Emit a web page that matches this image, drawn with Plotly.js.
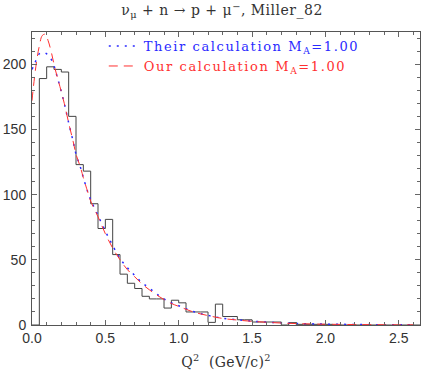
<!DOCTYPE html>
<html>
<head>
<meta charset="utf-8">
<script src="https://cdn.plot.ly/plotly-3.0.1.min.js"></script>
<style>html,body{margin:0;padding:0;background:#fff;}#chart{width:423px;height:379px;}
.legendtext{letter-spacing:1.6px;}
.xtitle{letter-spacing:0.3px;}
.gtitle{letter-spacing:0.5px;}
</style>
</head>
<body>
<div id="chart"></div>
<script>
// Histogram (data): bin left edges, width 0.05 GeV^2
var binEdges = [0.00,0.05,0.10,0.15,0.20,0.25,0.30,0.35,0.40,0.45,0.50,0.55,0.60,0.65,0.70,0.75,0.80,0.85,0.90,0.95,1.00,1.05,1.10,1.15,1.20,1.25,1.30,1.35,1.40,1.45,1.50,1.55,1.60,1.65,1.70,1.75,1.80,1.85,1.90,1.95,2.00,2.05,2.10,2.15,2.20,2.25,2.30,2.35,2.40,2.45,2.50,2.55,2.60,2.65];
var binCounts = [0,189,198,196,194,160,123,118,93,74,81,54,39,32,28,22,20,20,13,19,17,10,10,10,2,16,6.5,6.5,4,4,2.3,2.3,2.3,2.3,0,1.8,0.5,0.5,0.5,0.5,0.5,0,0,0,0,0,0,0,0,0,0,0,0,0];

// Their calculation (blue dotted)
var theirQ2 = [0.00,0.02,0.05,0.08,0.10,0.13,0.15,0.17,0.19,0.22,0.25,0.28,0.30,0.33,0.35,0.38,0.40,0.45,0.50,0.55,0.60,0.65,0.70,0.75,0.80,0.85,0.90,0.95,1.00,1.10,1.20,1.30,1.40,1.50,1.60,1.70,1.80,1.90,2.00,2.20,2.40,2.60];
var theirVal = [196,201,208,209,208,204,199,191,183,170,155,141,131,121,113,102,96,84,72,61,51,44,38,32.5,28.3,23.8,20,17,14.8,10.3,7.4,5.2,4,3,2.2,1.6,1.2,0.9,0.7,0.4,0.2,0.1];

// Our calculation (red dashed)
var ourQ2 = [0.00,0.01,0.03,0.05,0.07,0.09,0.11,0.13,0.15,0.17,0.19,0.22,0.25,0.28,0.30,0.33,0.35,0.38,0.40,0.45,0.50,0.55,0.60,0.65,0.70,0.75,0.80,0.85,0.90,0.95,1.00,1.10,1.20,1.30,1.40,1.50,1.60,1.70,1.80,1.90,2.00,2.20,2.40,2.60];
var ourVal = [172,183,201,214,222,223,218,210,200,191,183,170,155,141,131,121,113,102,95,83,70,59,50,42.5,37,31.5,27,23,19.5,16.5,14.3,10,7.2,5,3.8,2.8,2.1,1.5,1.1,0.8,0.6,0.35,0.18,0.1];

var legendTexts = ['Their calculation M<sub>A</sub>=1.00', 'Our calculation M<sub>A</sub>=1.00'];

var serif = 'DejaVu Serif, Liberation Serif, serif';

var traces = [
  {x: binEdges, y: binCounts, type: 'scatter', mode: 'lines', line: {shape: 'hv', color: '#444', width: 1}, showlegend: false, hoverinfo: 'skip'},
  {x: theirQ2, y: theirVal, type: 'scatter', mode: 'lines', name: legendTexts[0], line: {shape: 'spline', color: '#2a2aff', width: 1.5, dash: '2px,6px'}},
  {x: ourQ2, y: ourVal, type: 'scatter', mode: 'lines', name: legendTexts[1], line: {shape: 'spline', color: '#ff3030', width: 1, dash: '9px,6px'}}
];

var layout = {
  width: 423, height: 379,
  margin: {l: 32, r: 3, t: 32, b: 54},
  paper_bgcolor: '#fff', plot_bgcolor: '#fff',
  title: {text: '&#957;<sub>&#956;</sub> + n &#8594; p + &#956;<sup>&#8722;</sup>, Miller_82', x: 0.525, xanchor: 'center', y: 0.985, yanchor: 'top', font: {family: serif, size: 14, color: '#333'}},
  xaxis: {range: [0, 2.645], showgrid: false, zeroline: false, showline: true, linecolor: '#555', linewidth: 1, mirror: 'ticks',
    ticks: 'inside', ticklen: 5, tickcolor: '#666', dtick: 0.5, tick0: 0, tickformat: '.1f',
    minor: {ticks: 'inside', ticklen: 3, dtick: 0.1, tickcolor: '#666'},
    tickfont: {family: 'Liberation Sans, Arial, sans-serif', size: 14, color: '#333'},
    title: {text: 'Q<sup>2</sup>  (GeV/c)<sup>2</sup>', standoff: 12, font: {family: serif, size: 14, color: '#333'}}},
  yaxis: {range: [0, 224.7], showgrid: false, zeroline: false, showline: true, linecolor: '#555', linewidth: 1, mirror: 'ticks',
    ticks: 'inside', ticklen: 5, tickcolor: '#666', dtick: 50, tick0: 0,
    minor: {ticks: 'inside', ticklen: 3, dtick: 10, tickcolor: '#666'},
    tickfont: {family: 'Liberation Sans, Arial, sans-serif', size: 14, color: '#333'}, ticklabelstandoff: 2},
  legend: {x: 0.185, y: 1.003, xanchor: 'left', yanchor: 'top', bgcolor: 'rgba(0,0,0,0)', borderwidth: 0,
    font: {family: serif, size: 13}},
  showlegend: true,
  hovermode: false
};

Plotly.newPlot('chart', traces, layout, {displayModeBar: false, staticPlot: true}).then(function(){
  var texts = document.querySelectorAll('.legendtext');
  var cols = ['#2a2aff', '#ff3030'];
  texts.forEach(function(t, i){ t.style.fill = cols[i]; });
});
</script>
</body>
</html>
